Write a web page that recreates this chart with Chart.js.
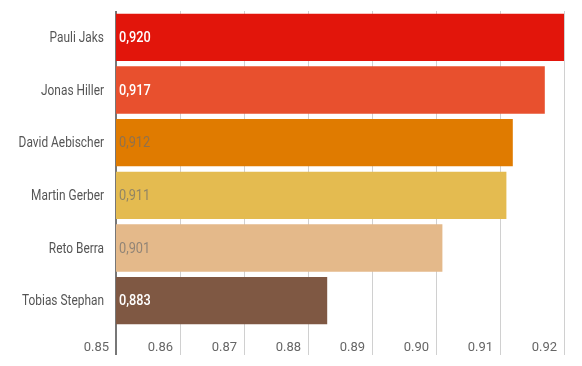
<!DOCTYPE html>
<html>
<head>
<meta charset="utf-8">
<script src="https://cdn.jsdelivr.net/npm/chart.js@4"></script>
<style>
  html, body { margin: 0; padding: 0; background: #fff; }
  #wrap { width: 582px; height: 366px; position: relative; }
</style>
</head>
<body>
<div id="wrap"><canvas id="c" width="582" height="366"></canvas></div>
<script>
const categories = ["Pauli Jaks", "Jonas Hiller", "David Aebischer", "Martin Gerber", "Reto Berra", "Tobias Stephan"];
const values = [0.920, 0.917, 0.912, 0.911, 0.901, 0.883];
const barColors = ["#e2150b", "#e8502e", "#e07b00", "#e4bb50", "#e4b98a", "#7f5843"];
const labelColors = ["#ffffff", "#ffffff", "rgba(110,110,110,0.7)", "rgba(110,110,110,0.7)", "rgba(110,110,110,0.7)", "#ffffff"];
const xMin = 0.85, xMax = 0.92, xStep = 0.01;

const FONT = "Roboto, 'Liberation Sans', sans-serif";
const SQUEEZE = 0.85;

const narrowLabels = {
  id: 'narrowLabels',
  afterDatasetsDraw(chart) {
    const ctx = chart.ctx;
    const meta = chart.getDatasetMeta(0);
    const yScale = chart.scales.y;
    const left = chart.scales.x.getPixelForValue(xMin);
    ctx.save();
    ctx.textBaseline = 'middle';
    // category labels
    ctx.font = "14px " + FONT;
    ctx.textAlign = 'right';
    ctx.fillStyle = '#555555';
    categories.forEach((name, i) => {
      const y = yScale.getPixelForValue(i);
      ctx.save();
      ctx.translate(left - 12, y + 1);
      ctx.scale(SQUEEZE, 1);
      ctx.fillText(name, 0, 0);
      ctx.restore();
    });
    // value labels
    ctx.textAlign = 'left';
    meta.data.forEach((bar, i) => {
      const isWhite = labelColors[i] === '#ffffff';
      ctx.font = (isWhite ? "500 " : "") + "15px " + FONT;
      ctx.fillStyle = labelColors[i];
      ctx.save();
      ctx.translate(left + 3, bar.y + 1);
      ctx.scale(SQUEEZE, 1);
      ctx.fillText(values[i].toFixed(3).replace('.', ','), 0, 0);
      ctx.restore();
    });
    ctx.restore();
  }
};

new Chart(document.getElementById('c'), {
  type: 'bar',
  data: {
    labels: categories,
    datasets: [{
      data: values,
      backgroundColor: barColors,
      borderWidth: 0,
      barPercentage: 0.9,
      categoryPercentage: 1.0
    }]
  },
  options: {
    indexAxis: 'y',
    responsive: false,
    animation: false,
    layout: { padding: { top: 11, right: 18, bottom: 0, left: 0 } },
    plugins: { legend: { display: false }, tooltip: { enabled: false } },
    scales: {
      x: {
        min: xMin, max: xMax,
        border: { display: false },
        grid: {
          color: (c) => c.index === 0 ? '#777777' : '#d0d0d0',
          lineWidth: (c) => c.index === 0 ? 2 : 1,
          tickLength: 28,
          drawTicks: true
        },
        ticks: {
          stepSize: xStep,
          align: 'end',
          labelOffset: -7,
          padding: -15,
          color: '#666',
          font: { family: FONT, size: 13 },
          maxRotation: 0,
          autoSkip: false,
          callback: (v) => Number(v).toFixed(2)
        },
        afterFit: (s) => { s.height = 39; }
      },
      y: {
        border: { display: false },
        grid: { display: false, drawTicks: false },
        ticks: { display: false },
        afterFit: (s) => { s.width = 116; s.paddingTop = 0; s.paddingBottom = 0; }
      }
    }
  },
  plugins: [narrowLabels]
});
</script>
</body>
</html>
